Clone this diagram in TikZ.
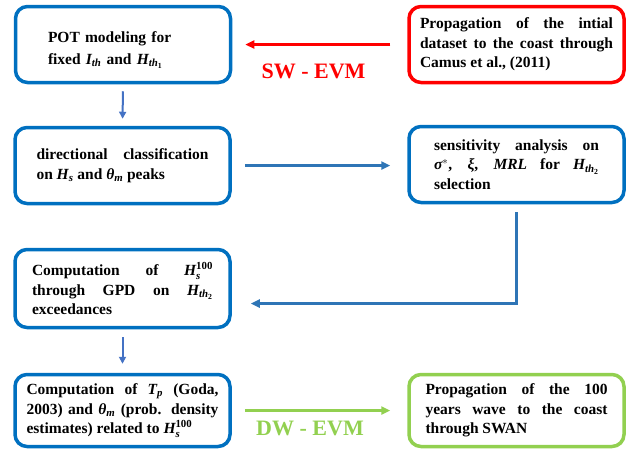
\documentclass[tikz,border=0pt]{standalone}
\usepackage{amsmath,amssymb}
\usepackage{fontspec}
\setmainfont{Liberation Serif}
\usepackage{tikz}
\usetikzlibrary{arrows.meta, positioning}

\definecolor{boxblue}{RGB}{0,112,192}
\definecolor{arrowblue}{RGB}{46,117,182}
\definecolor{stepblue}{RGB}{68,114,196}
\definecolor{swred}{RGB}{255,0,0}
\definecolor{dwgreen}{RGB}{146,208,80}

\newcommand{\vi}[1]{\text{\itshape #1}}
\newcommand{\vb}[1]{\text{#1}}

\begin{document}
\begin{tikzpicture}[
			x=1pt, y=-1pt,
			every node/.style={font=\bfseries\fontsize{15.5}{19.5}\selectfont},
			stagebox/.style={draw=boxblue, line width=3.5pt, rounded corners=12pt,
				minimum width=215pt, minimum height=76pt, align=justify},
			swbox/.style={stagebox, draw=swred},
			dwbox/.style={stagebox, draw=dwgreen},
			flow/.style={-{Triangle[length=7pt, width=7pt]}, line width=2pt, draw=stepblue},
			longflow/.style={-{Triangle[length=9pt, width=8pt]}, line width=3pt, draw=arrowblue},
			evmlabel/.style={font=\bfseries\fontsize{22}{24}\selectfont}
			]
			\useasboundingbox (0,0) rectangle (629,451);

			\node[stagebox, text width=150pt, align=left] (pot) at (123,44.5)
				{\rule{0pt}{22pt}POT modeling for\\[2pt] fixed $\vi{I}_{\vi{th}}$ and $\vi{H}_{\vi{th}_{\vb{1}}}$};
			\node[swbox, text width=193pt] (camus) at (516.5,44.5)
				{Propagation of the intial\linebreak dataset to the coast through\linebreak Camus et al., (2011)};
			\node[stagebox, text width=172pt] (dir) at (122.5,165.5)
				{directional classification\linebreak on $\vi{H}_{\vi{s}}$ and $\vi{θ}_{\vi{m}}$ peaks};
			\node[stagebox, text width=165pt] (sens) at (516.5,164.5)
				{sensitivity analysis on\linebreak $\vi{σ}^{*}$, $\vi{ξ}$, $\vi{MRL}$ for $\vi{H}_{\vi{th}_{\vb{2}}}$\linebreak selection};
			\node[stagebox, text width=181pt, minimum height=78pt] (gpd) at (122.5,288.5)
				{Computation of $\vi{H}_{\vi{s}}^{\vb{100}}$\linebreak through GPD on $\vi{H}_{\vi{th}_{\vb{2}}}$\linebreak exceedances};
			\node[stagebox, text width=192pt, minimum height=72pt] (tp) at (122.5,410.5)
				{Computation of $\vi{T}_{\vi{p}}$ (Goda,\linebreak 2003) and $\vi{θ}_{\vi{m}}$ (prob. density\linebreak estimates) related to $\vi{H}_{\vi{s}}^{\vb{100}}$};
			\node[dwbox, text width=182pt, minimum height=72pt] (swan) at (516.5,410.5)
				{Propagation of the 100\linebreak years wave to the coast\linebreak through SWAN};

			\node[evmlabel, text=swred] (sw) at (313.5,71) {SW - EVM};
			\node[evmlabel, text=dwgreen] (dw) at (310,428) {DW - EVM};

			\draw[longflow, draw=swred, shorten <=17pt, shorten >=13pt] (camus.west) -- (pot.east);
			\draw[flow, shorten <=7pt, shorten >=7pt] (pot.south) -- (dir.north);
			\draw[longflow, shorten <=13pt, shorten >=17pt] (dir.east) -- (dir.east -| sens.west);
			\draw[longflow, shorten <=8pt, shorten >=19pt] (sens.south) |- ([yshift=-15pt]gpd.east);
			\draw[flow, shorten <=8pt, shorten >=9pt] (gpd.south) -- (tp.north);
			\draw[longflow, draw=dwgreen, shorten <=13pt, shorten >=17pt] (tp.east) -- (tp.east -| swan.west);
		\end{tikzpicture}
\end{document}
